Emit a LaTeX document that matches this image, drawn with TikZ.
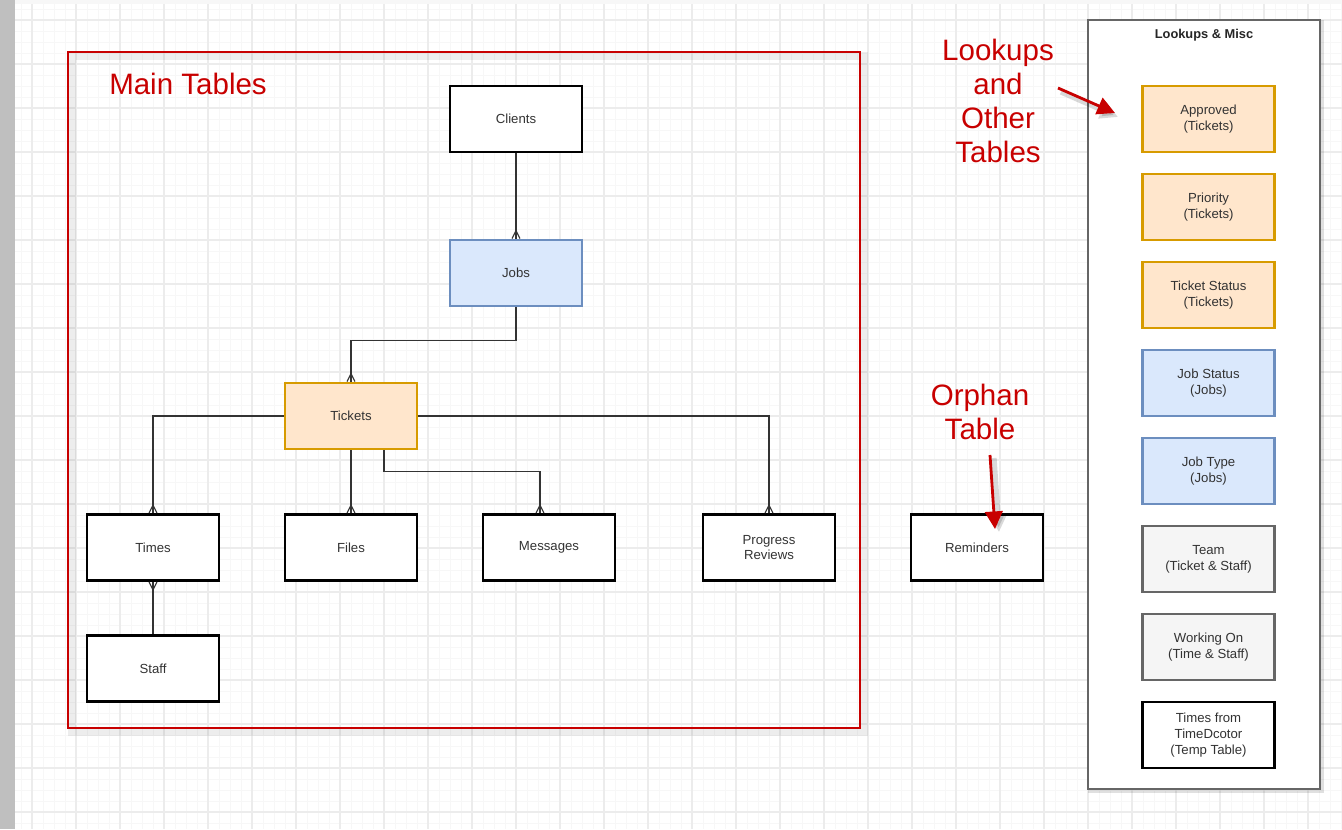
\documentclass[tikz,border=0pt]{standalone}
\usepackage{fontspec}
\setmainfont{Liberation Sans}
\usetikzlibrary{arrows.meta,calc}
\definecolor{redc}{HTML}{C80000}
\definecolor{orfill}{HTML}{FFE6CC}
\definecolor{ordraw}{HTML}{D79B00}
\definecolor{blfill}{HTML}{DAE8FC}
\definecolor{bldraw}{HTML}{6C8EBF}
\definecolor{grfill}{HTML}{F5F5F5}
\definecolor{grdraw}{HTML}{666666}
\definecolor{txt}{HTML}{333333}
\definecolor{minorg}{HTML}{F7F7F7}
\definecolor{majorg}{HTML}{ECECEC}
\begin{document}
\begin{tikzpicture}[x=0.02cm,y=-0.02cm,
  tbl/.style={draw=black, line width=1.6pt, fill=white, minimum width=2.64cm, minimum height=1.32cm,
    inner sep=1pt, align=center, text=txt, font=\fontsize{7.5}{9}\selectfont},
  orangebox/.style={tbl, draw=ordraw, fill=orfill},
  bluebox/.style={tbl, draw=bldraw, fill=blfill},
  graybox/.style={tbl, draw=grdraw, fill=grfill},
  conn/.style={draw=txt, line width=0.6pt},
  redtext/.style={text=redc, align=center, font=\fontsize{16.8}{19.3}\selectfont, inner sep=0pt},
  redarrow/.style={draw=redc, line width=1.6pt, -{Triangle[length=10pt,width=10pt]}},
  shadowarrow/.style={draw=black, opacity=0.15, line width=3pt, -{Triangle[length=10pt,width=10pt]}},
  crow/.pic={\draw[conn] (0,-8) -- (-4,0) (0,-8) -- (4,0);}
]
\useasboundingbox (0,0) rectangle (1342,829);
% background
\fill[gray!50] (0,0) rectangle (15,829);
\fill[gray!6] (15,0) rectangle (1342,4);
\fill[white] (15,4) rectangle (1342,829);
\foreach \x in {21,32,...,1342} \draw[minorg, line width=0.5pt] (\x,4) -- (\x,829);
\foreach \y in {9,20,...,829} \draw[minorg, line width=0.5pt] (15,\y) -- (1342,\y);
\foreach \x in {32,76,...,1342} \draw[majorg, line width=0.6pt] (\x,4) -- (\x,829);
\foreach \y in {20,64,...,829} \draw[majorg, line width=0.6pt] (15,\y) -- (1342,\y);

% main tables frame
\draw[black, opacity=0.07, line width=5pt] (72,56) rectangle (864,732);
\draw[redc, line width=1.3pt] (68,52) rectangle (860,728);
\node[redtext] (maintitle) at (188,84) {Main Tables};

% lookups frame
\draw[black, opacity=0.12, line width=2pt] (1090,22) rectangle (1322,791);
\draw[grdraw, fill=white, line width=1pt] (1088,20) rectangle (1320,789);
\node[font=\bfseries\fontsize{7.3}{9}\selectfont, text=black!85] (lktitle) at (1204,35) {Lookups \& Misc};

% main nodes
\node[tbl] (clients) at (516,119) {Clients};
\node[bluebox] (jobs) at (516,273) {Jobs};
\node[orangebox] (tickets) at (351,416) {Tickets};
\node[tbl] (times) at (153,547.5) {Times};
\node[tbl] (files) at (351,547.5) {Files};
\node[tbl] (messages) at (549,547.5) {Messages};
\node[tbl] (progress) at (769,547.5) {Progress\\Reviews};
\node[tbl] (staff) at (153,668.5) {Staff};
\node[tbl] (reminders) at (977,547.5) {Reminders};

% lookup nodes
\node[orangebox] (approved) at (1208.5,119) {Approved\\(Tickets)};
\node[orangebox] (priority) at (1208.5,207) {Priority\\(Tickets)};
\node[orangebox] (tstatus) at (1208.5,295) {Ticket Status\\(Tickets)};
\node[bluebox] (jstatus) at (1208.5,383) {Job Status\\(Jobs)};
\node[bluebox] (jtype) at (1208.5,471) {Job Type\\(Jobs)};
\node[graybox] (team) at (1208.5,559) {Team\\(Ticket \& Staff)};
\node[graybox] (working) at (1208.5,647) {Working On\\(Time \& Staff)};
\node[tbl] (tdoctor) at (1208.5,735) {Times from\\TimeDcotor\\(Temp Table)};

% connectors
\draw[conn] (clients.south) -- (jobs.north);
\pic at (jobs.north) {crow};
\draw[conn] (jobs.south) -- ++(0,33) -| (tickets.north);
\pic at (tickets.north) {crow};
\draw[conn] (tickets.west) -| (times.north);
\pic at (times.north) {crow};
\draw[conn] (tickets.south) -- (files.north);
\pic at (files.north) {crow};
\draw[conn] ($(tickets.south)+(33,0)$) -- ++(0,21) -| ($(messages.north)+(-9,0)$) coordinate (msgend);
\pic at (msgend) {crow};
\draw[conn] (tickets.east) -| (progress.north);
\pic at (progress.north) {crow};
\draw[conn] (staff.north) -- (times.south);
\pic[rotate=180] at (times.south) {crow};

% annotations
\node[redtext] (lookupsnote) at (998,101) {Lookups\\and\\Other\\Tables};
\node[redtext] (orphannote) at (980,412) {Orphan\\Table};
\coordinate (a1s) at (1058,88);
\coordinate (a1e) at (1115,113);
\coordinate (a2s) at (990,455);
\coordinate (a2e) at (995,529);
\draw[shadowarrow] ($(a1s)+(3,4)$) -- ($(a1e)+(3,4)$);
\draw[shadowarrow] ($(a2s)+(4,3)$) -- ($(a2e)+(4,3)$);
\draw[redarrow] (a1s) -- (a1e);
\draw[redarrow] (a2s) -- (a2e);
\end{tikzpicture}
\end{document}
